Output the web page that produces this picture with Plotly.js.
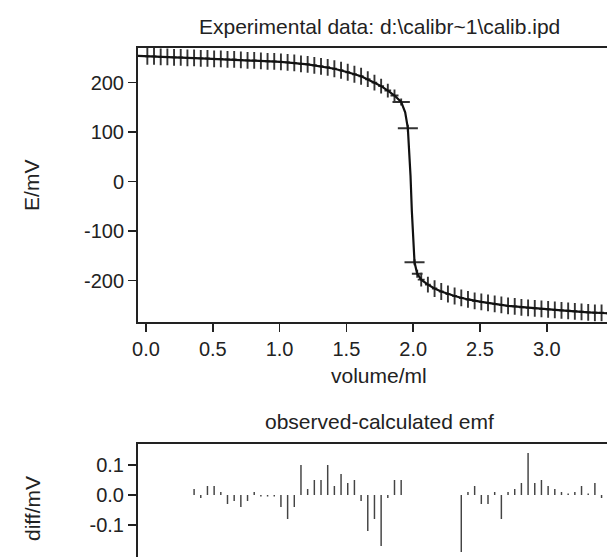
<!DOCTYPE html>
<html>
<head>
<meta charset="utf-8">
<script src="https://cdn.plot.ly/plotly-3.0.1.min.js"></script>
<style>
html, body { margin:0; padding:0; overflow:hidden; background:#fff; }
#chart { width:640px; height:600px; }
</style>
</head>
<body>
<div id="chart"></div>
<script>
// Observed titration points (volume / ml, E / mV)
const obsV = [0.01,0.06,0.11,0.16,0.21,0.26,0.31,0.36,0.41,0.46,0.51,0.56,0.61,0.66,0.71,0.76,0.81,0.86,0.91,0.96,
              1.01,1.06,1.11,1.16,1.21,1.26,1.31,1.36,1.41,1.46,1.51,1.56,1.61,1.66,1.71,1.76,1.81,1.86,1.91,1.96,
              2.01,2.03,2.06,2.11,2.16,2.21,2.26,2.31,2.36,2.41,2.46,2.51,2.56,2.61,2.66,2.71,2.76,2.81,2.86,2.91,
              2.96,3.01,3.06,3.11,3.16,3.21,3.26,3.31,3.36,3.41,3.46];
const obsE = [253,253,252,252,251,251,250,250,249,249,248,248,247,247,246,245,245,244,243,243,
              242,241,240,238,237,235,233,231,228,225,221,217,213,207,200,193,184,174,161,108,
              -163,-186,-198,-208,-216,-222,-227,-231,-235,-238,-241,-243,-245,-247,-249,-251,-252,-254,-255,-256,
              -257,-258,-259,-260,-261,-262,-263,-264,-265,-265,-266];
// Cross arm half-lengths
const errE = [17,17,17,17,17,17,17,17,17,17,17,17,17,17,17,17,17,17,17,17,
              17,17,17,17,17,17,17,17,17,17,17,17,17,16,16,15,14,12,7,7,
              6,8,14,16,17,17,17,17,17,17,17,17,17,17,17,17,17,17,17,17,
              17,17,17,17,17,17,17,17,17,17,17];
const errV = [0.018,0.018,0.018,0.018,0.018,0.018,0.018,0.018,0.018,0.018,0.018,0.018,0.018,0.018,0.018,0.018,0.018,0.018,0.018,0.018,
              0.018,0.018,0.018,0.018,0.018,0.018,0.018,0.018,0.018,0.018,0.018,0.018,0.019,0.02,0.021,0.022,0.025,0.03,0.065,0.075,
              0.075,0.04,0.026,0.022,0.02,0.018,0.018,0.018,0.018,0.018,0.018,0.018,0.018,0.018,0.018,0.018,0.018,0.018,0.018,0.018,
              0.018,0.018,0.018,0.018,0.018,0.018,0.018,0.018,0.018,0.018,0.018];

// Calculated emf curve
const calcV = [-0.06,0.01,0.21,0.41,0.61,0.81,1.01,1.21,1.41,1.51,1.61,1.71,1.76,1.81,1.86,1.91,1.94,1.96,1.97,1.98,1.99,2.00,2.01,2.03,2.06,2.11,2.16,2.21,2.31,2.41,2.51,2.71,2.91,3.11,3.31,3.46,3.6];
const calcE = [254,253,251,249,247,245,242,237,228,221,213,200,193,184,174,161,140,108,62,12,-60,-128,-163,-186,-198,-208,-216,-222,-231,-238,-243,-251,-256,-260,-264,-266,-268];

// Residuals observed - calculated (mV)
const diffV = [0.36,0.41,0.46,0.51,0.56,0.61,0.66,0.71,0.76,0.81,0.86,0.91,0.96,1.01,1.06,1.11,1.16,1.21,1.26,1.31,1.36,1.41,1.46,1.51,1.56,1.61,1.66,1.71,1.76,1.81,1.86,1.91,
               2.36,2.41,2.46,2.51,2.56,2.61,2.66,2.71,2.76,2.81,2.86,2.91,2.96,3.01,3.06,3.11,3.16,3.21,3.26,3.31,3.36,3.41,3.46];
const diffE = [0.02,-0.01,0.03,0.03,0.01,-0.03,-0.02,-0.04,-0.02,0.01,-0.005,-0.005,-0.005,-0.04,-0.08,-0.04,0.10,0.02,0.05,0.05,0.10,0.03,0.07,0.04,0.05,-0.02,-0.12,-0.08,-0.17,-0.01,0.05,0.05,
               -0.19,0.01,0.03,-0.03,-0.03,0.01,-0.08,0.01,0.02,0.04,0.14,0.04,0.05,0.03,0.02,0.01,0.005,0.01,0.03,0.005,0.04,-0.01,-0.06];

// Tick labels
const xTickVals = [0,0.5,1.0,1.5,2.0,2.5,3.0];
const xTickText = ['0.0','0.5','1.0','1.5','2.0','2.5','3.0'];
const eTickVals = [-200,-100,0,100,200];
const eTickText = ['-200','-100','0','100','200'];
const dTickVals = [-0.1,0,0.1];
const dTickText = ['-0.1','0.0','0.1'];

const FONT = 'Liberation Sans, Arial, sans-serif';
const INK = '#222';
const TICK_SIZE = 20;
const TITLE_SIZE = 21;

const traces = [
  {
    type:'scatter', mode:'markers', x: obsV, y: obsE, xaxis:'x', yaxis:'y',
    marker:{size:1, color:'#333'},
    error_y:{type:'data', array: errE, visible:true, thickness:1.9, width:0, color:'#333'},
    error_x:{type:'data', array: errV, visible:true, thickness:1.9, width:0, color:'#333'},
    hoverinfo:'skip', showlegend:false
  },
  {
    type:'scatter', mode:'lines', x: calcV, y: calcE, xaxis:'x', yaxis:'y',
    line:{color:'#111', width:2.2}, hoverinfo:'skip', showlegend:false
  },
  {
    type:'bar', x: diffV, y: diffE, xaxis:'x2', yaxis:'y2', width:0.011,
    marker:{color:'#444', line:{width:0}}, hoverinfo:'skip', showlegend:false
  }
];

const axisCommon = {
  showline:true, linecolor:'#222', linewidth:2, mirror:true,
  ticks:'outside', ticklen:8, tickwidth:1.5, tickcolor:'#222',
  showgrid:false, zeroline:false,
  tickfont:{family:FONT, size:TICK_SIZE, color:INK}
};

const layout = {
  width:640, height:600,
  margin:{l:138, r:20, t:48, b:20},
  paper_bgcolor:'#fff', plot_bgcolor:'#fff',
  font:{family:FONT, size:TICK_SIZE, color:INK},
  showlegend:false,
  xaxis: Object.assign({}, axisCommon, {range:[-0.0599, 3.548], tickvals:xTickVals, ticktext:xTickText, anchor:'y'}),
  yaxis: Object.assign({}, axisCommon, {domain:[0.4855,1], range:[-283,270], tickvals:eTickVals, ticktext:eTickText, anchor:'x'}),
  xaxis2: Object.assign({}, axisCommon, {range:[-0.0599, 3.548], tickvals:xTickVals, ticktext:xTickText, anchor:'y2', showticklabels:false}),
  yaxis2: Object.assign({}, axisCommon, {domain:[0,0.2556], range:[-0.2833,0.17], tickvals:dTickVals, ticktext:dTickText, anchor:'x2'}),
  annotations:[
    {text:'Experimental data: d:\\calibr~1\\calib.ipd', xref:'paper', yref:'paper', x:0.5, y:1.0395, showarrow:false, xanchor:'center', yanchor:'middle', font:{family:FONT, size:TITLE_SIZE, color:INK}},
    {text:'volume/ml', xref:'paper', yref:'paper', x:0.5, y:0.3853, showarrow:false, xanchor:'center', yanchor:'middle', font:{family:FONT, size:TITLE_SIZE, color:INK}},
    {text:'E/mV', xref:'paper', yref:'paper', x:-0.22, y:0.7425, textangle:-90, showarrow:false, xanchor:'center', yanchor:'middle', font:{family:FONT, size:TITLE_SIZE, color:INK}},
    {text:'observed-calculated emf', xref:'paper', yref:'paper', x:0.5, y:0.297, showarrow:false, xanchor:'center', yanchor:'middle', font:{family:FONT, size:TITLE_SIZE, color:INK}},
    {text:'diff/mV', xref:'paper', yref:'paper', x:-0.22, y:0.1353, textangle:-90, showarrow:false, xanchor:'center', yanchor:'middle', font:{family:FONT, size:TITLE_SIZE, color:INK}}
  ]
};

Plotly.newPlot('chart', traces, layout, {staticPlot:true, displayModeBar:false});
</script>
</body>
</html>
